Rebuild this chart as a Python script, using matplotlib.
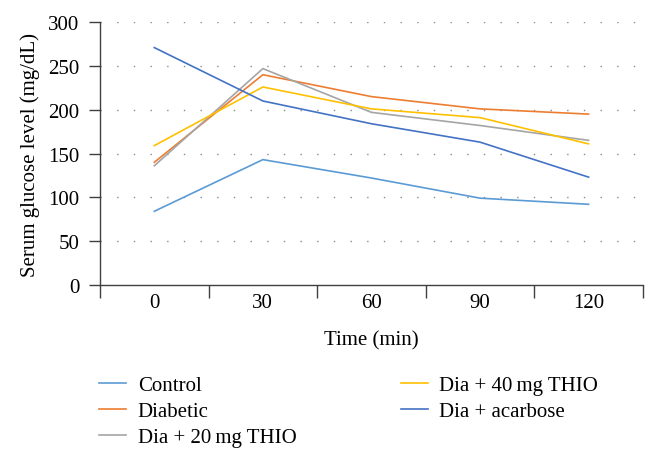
import numpy as np
import matplotlib.pyplot as plt
from matplotlib.ticker import FixedLocator, NullFormatter

plt.rcParams['font.family'] = ['Liberation Serif', 'DejaVu Serif']

times = ['0', '30', '60', '90', '120']
control = [84, 143, 122, 99, 92]
diabetic = [140, 240, 215, 201, 195]
dia20 = [136, 247, 197, 182, 165]
dia40 = [159, 226, 201, 191, 161]
acarbose = [271, 210, 184, 163, 123]

series = [
    ('Control', control, '#5B9BD5'),
    ('Diabetic', diabetic, '#ED7D31'),
    ('Dia + 20\u2009mg THIO', dia20, '#A5A5A5'),
    ('Dia + 40\u2009mg THIO', dia40, '#FFC000'),
    ('Dia + acarbose', acarbose, '#4472C4'),
]

fig = plt.figure(figsize=(6.58, 4.64), dpi=100)
ax = fig.add_axes([0.152, 0.384, 0.825, 0.566])

x = np.arange(len(times))
for name, vals, col in series:
    ax.plot(x, vals, color=col, lw=1.2, label=name)

ax.set_xlim(-0.5, len(times) - 0.5)
ax.set_ylim(0, 300)
ax.set_yticks(np.arange(0, 301, 50))
for yv in np.arange(50, 301, 50):
    ax.axhline(yv, color='#8a8a8a', lw=1.0, ls=(0, (1, 11)), zorder=0)

ax.xaxis.set_major_locator(FixedLocator(np.arange(-0.5, len(times), 1.0)))
ax.xaxis.set_major_formatter(NullFormatter())
ax.xaxis.set_minor_locator(FixedLocator(x))
ax.set_xticklabels(times, minor=True)
ax.tick_params(axis='x', which='major', length=9, width=1.0, color='#404040')
ax.tick_params(axis='x', which='minor', length=0, pad=6, labelsize=15)
ax.tick_params(axis='y', length=8, width=1.0, color='#404040', labelsize=15, pad=7)

for s in ['top', 'right']:
    ax.spines[s].set_visible(False)
for s in ['left', 'bottom']:
    ax.spines[s].set_color('#404040')
    ax.spines[s].set_linewidth(1.0)

ax.set_xlabel('Time (min)', fontsize=15, labelpad=13)
ax.set_ylabel('Serum glucose level (mg/dL)', fontsize=15, labelpad=6)

fig.legend(loc='upper left', bbox_to_anchor=(0.138, 0.206), ncol=2, frameon=False,
           fontsize=15, handlelength=1.3, columnspacing=5.0, labelspacing=0.3,
           handletextpad=0.55, borderaxespad=0)

fig.savefig('out.png', dpi=100)
